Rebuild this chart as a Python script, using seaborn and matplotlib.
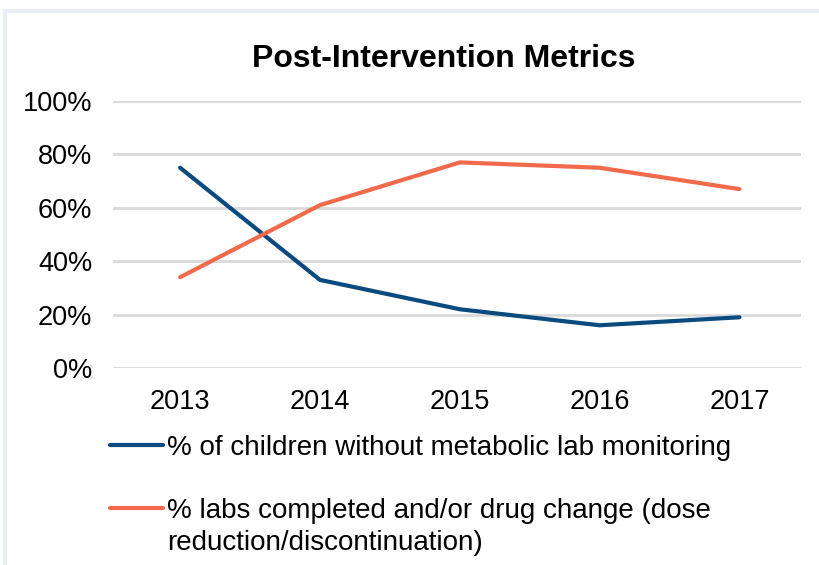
import matplotlib
matplotlib.use("Agg")
import matplotlib.pyplot as plt
import matplotlib.patches as mpatches
import seaborn as sns
import pandas as pd

years = ["2013", "2014", "2015", "2016", "2017"]
without_monitoring = [0.75, 0.33, 0.22, 0.16, 0.19]
labs_completed = [0.34, 0.61, 0.77, 0.75, 0.67]
series_names = ["% of children without metabolic lab monitoring",
                "% labs completed and/or drug change (dose"]
label_continuation = "reduction/discontinuation)"
y_ticks = [0, 0.2, 0.4, 0.6, 0.8, 1.0]
y_tick_labels = ["0%", "20%", "40%", "60%", "80%", "100%"]
colors = ["#0b4a7f", "#f26a4c"]

sns.set_theme(style="white")
plt.rcParams["font.family"] = ["Liberation Sans", "DejaVu Sans"]

df = pd.DataFrame({
    "year": years * 2,
    "value": without_monitoring + labs_completed,
    "series": [series_names[0]] * len(years) + [series_names[1]] * len(years),
})

fig = plt.figure(figsize=(8.2, 5.65), dpi=100)
ax = fig.add_axes([113 / 820, 1 - 368 / 565, (801 - 113) / 820, (368 - 101) / 565])

sns.lineplot(data=df, x="year", y="value", hue="series", palette=colors,
             linewidth=3.0, ax=ax, legend=False, sort=False)

ax.set_ylim(0, 1.0)
ax.set_xlim(-0.48, 4.44)
ax.set_yticks(y_ticks)
ax.set_yticklabels(y_tick_labels)
ax.set_xlabel("")
ax.set_ylabel("")
ax.grid(axis="y", color="#d9d9d9", linewidth=2.0)
ax.grid(axis="x", visible=False)
ax.set_axisbelow(True)
for s in ax.spines.values():
    s.set_visible(False)
ax.tick_params(axis="both", length=0, labelsize=19.5, colors="#000000")
ax.tick_params(axis="y", pad=15)
ax.tick_params(axis="x", pad=15)

fig.text(444 / 820, 1 - 59 / 565, "Post-Intervention Metrics", ha="center", va="center",
         fontsize=23, fontweight="bold", color="#000000")

handles = [plt.Line2D([], [], color=c, linewidth=3.0) for c in colors]
leg = fig.legend(handles, series_names, loc="upper left",
                 bbox_to_anchor=(110 / 820, 1 - 435 / 565), frameon=False,
                 fontsize=20, handlelength=1.9, handletextpad=0.15,
                 labelspacing=1.32, borderaxespad=0, borderpad=0)
for t in leg.get_texts():
    t.set_color("#000000")

fig.canvas.draw()
bb = leg.get_texts()[1].get_window_extent()
fx, fy = fig.transFigure.inverted().transform((bb.x0, bb.y1))
fig.text(fx, fy - 32 / 565, label_continuation, ha="left", va="top",
         fontsize=20, color="#000000")

border = mpatches.Rectangle((5 / 820, -0.1), 1.2, 1 - 11 / 565 + 0.1,
                            transform=fig.transFigure, fill=False,
                            edgecolor="#e8eef8", linewidth=3, clip_on=False)
fig.patches.append(border)

fig.savefig("out.png", dpi=100)
